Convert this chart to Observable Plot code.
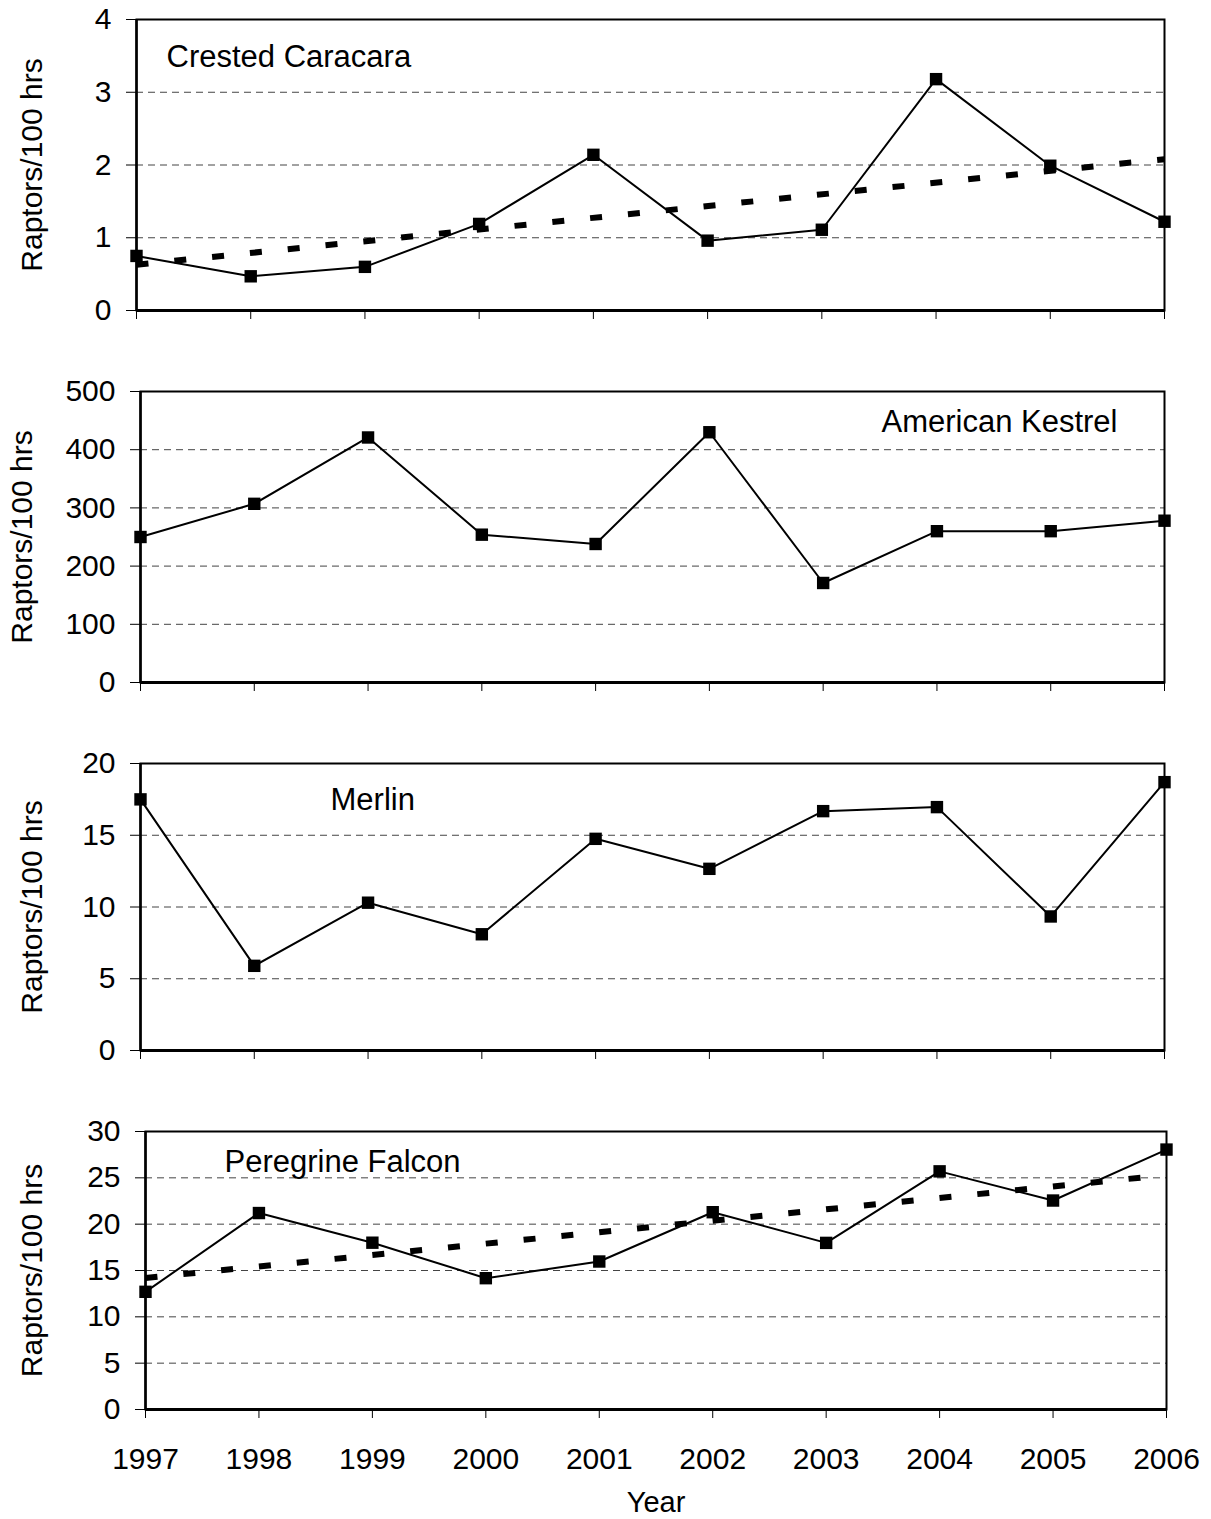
<!DOCTYPE html>
<html>
<head>
<meta charset="utf-8">
<script src="https://cdn.jsdelivr.net/npm/d3@7"></script>
<script src="https://cdn.jsdelivr.net/npm/@observablehq/plot@0.6"></script>
<style>
  body { margin: 0; background: #fff; }
  #chart { width: 1211px; }
  #chart svg { display: block; font-family: "Liberation Sans", Arial, sans-serif; }
</style>
</head>
<body>
<div id="chart"></div>
<script>
// ---- data ----
const years = [1997, 1998, 1999, 2000, 2001, 2002, 2003, 2004, 2005, 2006];
const trendYears = [1997, 2006];

const caracara = [0.75, 0.47, 0.60, 1.19, 2.14, 0.96, 1.11, 3.18, 1.99, 1.22];
const caracaraTrend = [0.63, 2.08];
const caracaraTicks = [0, 1, 2, 3, 4];

const kestrel = [250, 307, 421, 254, 238, 430, 171, 260, 260, 278];
const kestrelTicks = [0, 100, 200, 300, 400, 500];

const merlin = [17.5, 5.9, 10.3, 8.1, 14.75, 12.66, 16.68, 16.96, 9.34, 18.7];
const merlinTicks = [0, 5, 10, 15, 20];

const peregrine = [12.7, 21.2, 18.0, 14.17, 15.97, 21.29, 17.98, 25.7, 22.55, 28.05];
const peregrineTrend = [14.2, 25.3];
const peregrineTicks = [0, 5, 10, 15, 20, 25, 30];

const yLabel = "Raptors/100 hrs";
const xLabel = "Year";

// ---- panel configuration (layout only) ----
const panels = [
  { name: "Crested Caracara", values: caracara, trend: caracaraTrend, ticks: caracaraTicks,
    height: 340, mt: 19, mb: 30, ml: 136, mr: 47,
    nameAnchor: "top-left", nameDx: 30, nameDy: 38, nameText: "start", yLabelDx: -104, showX: false },
  { name: "American Kestrel", values: kestrel, trend: null, ticks: kestrelTicks,
    height: 370, mt: 51, mb: 28, ml: 140, mr: 47,
    nameAnchor: "top-right", nameDx: -47, nameDy: 31, nameText: "end", yLabelDx: -118, showX: false },
  { name: "Merlin", values: merlin, trend: null, ticks: merlinTicks,
    height: 370, mt: 53, mb: 30, ml: 140, mr: 47,
    nameAnchor: "top-left", nameDx: 190, nameDy: 37, nameText: "start", yLabelDx: -108, showX: false },
  { name: "Peregrine Falcon", values: peregrine, trend: peregrineTrend, ticks: peregrineTicks,
    height: 439, mt: 51, mb: 110, ml: 145, mr: 45,
    nameAnchor: "top-left", nameDx: 79, nameDy: 31, nameText: "start", yLabelDx: -113, showX: true }
];

const container = document.getElementById("chart");

for (const p of panels) {
  const series = years.map((yr, i) => ({ year: yr, value: p.values[i] }));
  const trend = p.trend ? trendYears.map((yr, i) => ({ year: yr, value: p.trend[i] })) : [];
  const yMax = p.ticks[p.ticks.length - 1];

  const marks = [
    Plot.gridY(p.ticks, { stroke: "#444", strokeOpacity: 1, strokeWidth: 1, strokeDasharray: "7,5" }),
    Plot.axisY(p.ticks, { tickSize: 10, tickPadding: 15, fontSize: 30, label: null, tickFormat: d => `${d}` }),
    Plot.axisX(years, {
      tickSize: 9, tickPadding: 29, fontSize: 30, label: null,
      tickFormat: p.showX ? (d => `${d}`) : () => ""
    }),
    Plot.frame({ stroke: "#000", strokeWidth: 2 }),
    Plot.ruleY([0], { stroke: "#000", strokeWidth: 3 }),
    Plot.ruleX([1997], { stroke: "#000", strokeWidth: 2.5 }),
    Plot.line(series, { x: "year", y: "value", stroke: "#000", strokeWidth: 2 }),
    Plot.dot(series, { x: "year", y: "value", symbol: "square", r: 7, fill: "#000", stroke: "none" }),
    Plot.text([p.name], {
      frameAnchor: p.nameAnchor, dx: p.nameDx, dy: p.nameDy, textAnchor: p.nameText,
      lineAnchor: "middle", fontSize: 31, fill: "#000"
    }),
    Plot.text([yLabel], {
      frameAnchor: "left", dx: p.yLabelDx, rotate: -90, textAnchor: "middle",
      lineAnchor: "middle", fontSize: 30, fill: "#000"
    })
  ];
  if (trend.length) {
    marks.push(Plot.line(trend, {
      x: "year", y: "value", stroke: "#000", strokeWidth: 6,
      strokeDasharray: "12,26", strokeLinecap: "butt"
    }));
  }
  if (p.showX) {
    marks.push(Plot.text([xLabel], {
      frameAnchor: "bottom", dy: 93, textAnchor: "middle", lineAnchor: "middle", fontSize: 29, fill: "#000"
    }));
  }

  const chart = Plot.plot({
    width: 1211,
    height: p.height,
    marginTop: p.mt,
    marginBottom: p.mb,
    marginLeft: p.ml,
    marginRight: p.mr,
    style: { fontFamily: "'Liberation Sans', Arial, sans-serif", color: "#000", background: "#fff", overflow: "visible" },
    x: { domain: [1997, 2006] },
    y: { domain: [0, yMax] },
    marks
  });
  container.appendChild(chart);
}
</script>
</body>
</html>
